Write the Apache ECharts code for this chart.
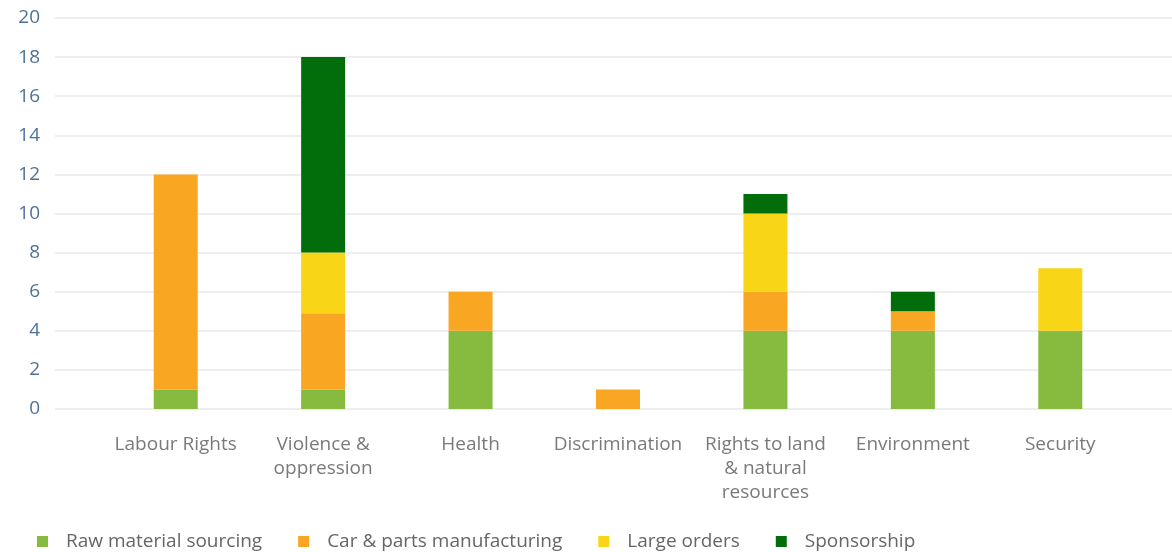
<!DOCTYPE html>
<html>
<head>
<meta charset="utf-8">
<script src="https://cdn.jsdelivr.net/npm/echarts@6/dist/echarts.min.js"></script>
<style>html,body{margin:0;padding:0;background:#fff}#c{width:1172px;height:552px}</style>
</head>
<body>
<div id="c"></div>
<script>
const categories = ['Labour Rights', 'Violence &\noppression', 'Health', 'Discrimination', 'Rights to land\n& natural\nresources', 'Environment', 'Security'];
const seriesNames = ['Raw material sourcing', 'Car & parts manufacturing', 'Large orders', 'Sponsorship'];
const rawMaterial = [1, 1, 4, 0, 4, 4, 4];
const carParts = [11, 3.9, 2, 1, 2, 1, 0];
const largeOrders = [0, 3.1, 0, 0, 4, 0, 3.2];
const sponsorship = [0, 10, 0, 0, 1, 1, 0];
const yTicks = { min: 0, max: 20, interval: 2 };
const colors = ['#86bb3f', '#f9a623', '#f8d516', '#016d0b'];

const values = [rawMaterial, carParts, largeOrders, sponsorship];
const font = '"Open Sans", Lato, sans-serif';

const chart = echarts.init(document.getElementById('c'), null, { renderer: 'canvas' });
chart.setOption({
  animation: false,
  color: colors,
  grid: [
    { left: 55, right: 0, top: 18, bottom: 143, containLabel: false },
    { left: 102, right: 38, top: 18, bottom: 143, containLabel: false }
  ],
  xAxis: [
    { gridIndex: 0, type: 'value', show: false, min: 0, max: 1 },
    {
      gridIndex: 1, type: 'category', data: categories,
      axisLine: { show: false }, axisTick: { show: false },
      axisLabel: { color: '#7a7a7a', fontSize: 19, fontFamily: font, lineHeight: 24, margin: 24, interval: 0 }
    }
  ],
  yAxis: [
    {
      gridIndex: 0, type: 'value', min: yTicks.min, max: yTicks.max, interval: yTicks.interval,
      axisLine: { show: false }, axisTick: { show: false },
      axisLabel: { color: '#4d7199', fontSize: 19, fontFamily: font, margin: 15 },
      splitLine: { lineStyle: { color: '#eeeeee', width: 2 } }
    },
    {
      gridIndex: 1, type: 'value', min: yTicks.min, max: yTicks.max, interval: yTicks.interval,
      show: false, splitLine: { show: false }
    }
  ],
  legend: {
    left: 32, top: 527, itemWidth: 11, itemHeight: 11, itemGap: 36, icon: 'rect',
    textStyle: { color: '#666', fontSize: 19, fontFamily: font, padding: [0, 0, 0, 13] },
    data: seriesNames
  },
  series: seriesNames.map((name, i) => ({
    name, type: 'bar', stack: 'total', xAxisIndex: 1, yAxisIndex: 1,
    barWidth: 44, data: values[i]
  }))
});
</script>
</body>
</html>
